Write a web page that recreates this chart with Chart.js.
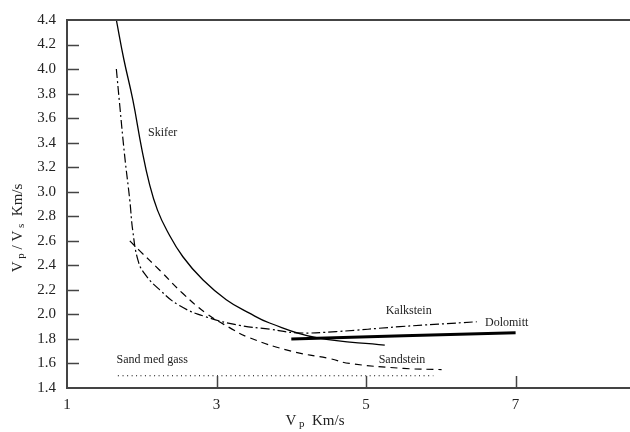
<!DOCTYPE html>
<html>
<head>
<meta charset="utf-8">
<script src="https://cdn.jsdelivr.net/npm/chart.js@4"></script>
<style>
  html, body { margin: 0; padding: 0; background: #fff; }
  #wrap { width: 630px; height: 432px; }
</style>
</head>
<body>
<div id="wrap"><canvas id="vpvs" width="630" height="432"></canvas></div>
<script>
// Vp (km/s) vs Vp/Vs for rock types
const xTicks = [1, 3, 5, 7];
const yTicks = [1.4, 1.6, 1.8, 2.0, 2.2, 2.4, 2.6, 2.8, 3.0, 3.2, 3.4, 3.6, 3.8, 4.0, 4.2, 4.4];

const skiferVp    = [1.66, 1.76, 1.88, 2.00, 2.10, 2.21, 2.34, 2.55, 2.82, 3.13, 3.44, 3.71, 4.34, 5.25];
const skiferRatio = [4.40, 4.08, 3.75, 3.35, 3.07, 2.85, 2.68, 2.47, 2.28, 2.12, 2.01, 1.93, 1.81, 1.75];

const kalkVp    = [1.66, 1.70, 1.77, 1.84, 1.88, 1.95, 2.04, 2.24, 2.51, 2.86, 3.31, 3.71, 4.07, 4.60, 5.45, 6.48];
const kalkRatio = [4.00, 3.74, 3.30, 2.93, 2.68, 2.44, 2.33, 2.20, 2.07, 1.98, 1.91, 1.88, 1.85, 1.86, 1.90, 1.94];

const sandVp    = [1.84, 1.97, 2.24, 2.55, 2.86, 3.18, 3.44, 4.00, 4.51, 4.78, 5.50, 6.01];
const sandRatio = [2.60, 2.52, 2.36, 2.17, 2.01, 1.89, 1.81, 1.70, 1.64, 1.60, 1.56, 1.55];

const dolomittVp    = [4.0, 7.0];
const dolomittRatio = [1.80, 1.85];

const gassVp    = [1.68, 5.9];
const gassRatio = [1.50, 1.50];

const curveLabels = [
  ['Skifer', 2.28, 3.48],
  ['Sand med gass', 2.14, 1.63],
  ['Kalkstein', 5.57, 2.03],
  ['Dolomitt', 6.88, 1.93],
  ['Sandstein', 5.48, 1.63]
];

const serif = "'Liberation Serif', 'Times New Roman', serif";
const axisColor = '#444';

function pts(xs, ys) {
  return xs.map((x, i) => ({ x: x, y: ys[i] }));
}

function curve(xs, ys, dash, width) {
  return {
    data: pts(xs, ys),
    showLine: true,
    borderColor: '#000',
    borderWidth: width,
    borderDash: dash,
    pointRadius: 0,
    tension: 0.45,
    fill: false
  };
}

// frame top line, inner tick marks, axis titles and curve labels
const decor = {
  id: 'decor',
  afterDraw(chart) {
    const { ctx, chartArea: a, scales: { x, y } } = chart;
    ctx.save();
    ctx.strokeStyle = axisColor;
    ctx.lineWidth = 2;
    ctx.beginPath();
    ctx.moveTo(a.left, a.top);
    ctx.lineTo(a.right, a.top);
    ctx.stroke();

    ctx.lineWidth = 1.5;
    ctx.beginPath();
    yTicks.slice(1, -1).forEach(v => {
      const py = Math.round(y.getPixelForValue(v)) + 0.5;
      ctx.moveTo(a.left, py);
      ctx.lineTo(a.left + 12, py);
    });
    xTicks.slice(1).forEach(v => {
      const px = Math.round(x.getPixelForValue(v)) + 0.5;
      ctx.moveTo(px, a.bottom);
      ctx.lineTo(px, a.bottom - 12);
    });
    ctx.stroke();

    ctx.fillStyle = '#222';
    ctx.textBaseline = 'middle';
    ctx.textAlign = 'center';
    ctx.font = '12px ' + serif;
    curveLabels.forEach(([t, vx, vy]) => {
      ctx.fillText(t, x.getPixelForValue(vx), y.getPixelForValue(vy));
    });

    // title with subscripts: parts of [text, isSub]
    function title(parts, cx, cy) {
      ctx.textAlign = 'left';
      let w = 0;
      parts.forEach(([t, sub]) => {
        ctx.font = (sub ? '11px ' : '15px ') + serif;
        w += ctx.measureText(t).width;
      });
      let px = cx - w / 2;
      parts.forEach(([t, sub]) => {
        ctx.font = (sub ? '11px ' : '15px ') + serif;
        ctx.fillText(t, px, cy + (sub ? 3 : 0));
        px += ctx.measureText(t).width;
      });
    }
    title([['V', false], [' p', true], ['  Km/s', false]], 315, 421);

    ctx.translate(18, 228);
    ctx.rotate(-Math.PI / 2);
    title([['V', false], [' p', true], [' / V', false], [' s', true], ['  Km/s', false]], 0, 0);
    ctx.restore();
  }
};

new Chart(document.getElementById('vpvs').getContext('2d'), {
  type: 'scatter',
  data: {
    datasets: [
      curve(skiferVp, skiferRatio, [], 1.3),
      curve(kalkVp, kalkRatio, [9, 3, 2, 3], 1.2),
      curve(sandVp, sandRatio, [7, 5], 1.2),
      curve(dolomittVp, dolomittRatio, [], 3),
      curve(gassVp, gassRatio, [1, 3.5], 1.2)
    ]
  },
  options: {
    responsive: false,
    animation: false,
    layout: { padding: { top: 19, right: 0, left: 0, bottom: 0 } },
    plugins: {
      legend: { display: false },
      tooltip: { enabled: false }
    },
    scales: {
      x: {
        type: 'linear',
        min: 1,
        max: 8.53,
        afterBuildTicks: s => { s.ticks = xTicks.map(v => ({ value: v })); },
        afterFit: s => { s.height = 44; },
        grid: { display: false, drawTicks: false },
        border: { display: true, color: axisColor, width: 2 },
        ticks: {
          padding: 8,
          color: '#222',
          font: { family: serif, size: 15 },
          callback: v => String(v)
        }
      },
      y: {
        type: 'linear',
        min: 1.4,
        max: 4.4,
        afterBuildTicks: s => { s.ticks = yTicks.map(v => ({ value: v })); },
        afterFit: s => { s.width = 67; },
        grid: { display: false, drawTicks: false },
        border: { display: true, color: axisColor, width: 2 },
        ticks: {
          padding: 11,
          color: '#222',
          font: { family: serif, size: 15 },
          callback: v => Number(v).toFixed(1)
        }
      }
    }
  },
  plugins: [decor]
});
</script>
</body>
</html>
